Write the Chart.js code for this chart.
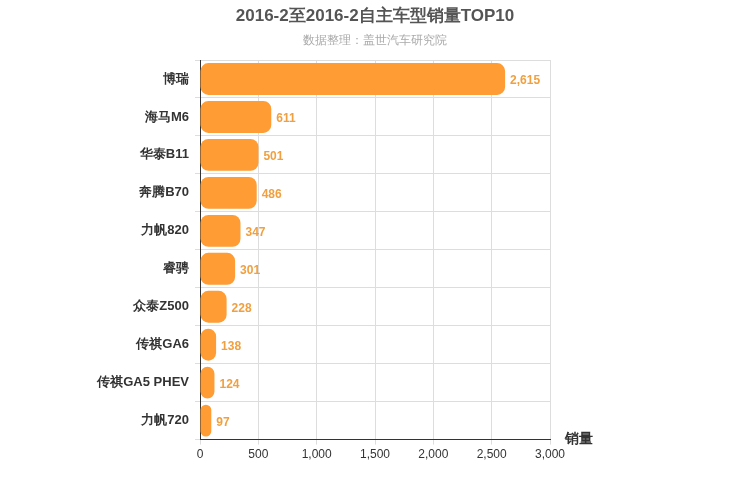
<!DOCTYPE html>
<html>
<head>
<meta charset="utf-8">
<script src="https://cdn.jsdelivr.net/npm/chart.js@4"></script>
<style>
body{margin:0;background:#fff;}
#wrap{width:750px;height:500px;position:relative;}
</style>
</head>
<body>
<div id="wrap"><canvas id="myChart" width="750" height="500"></canvas></div>
<script>
var categories = ['博瑞','海马M6','华泰B11','奔腾B70','力帆820','睿骋','众泰Z500','传祺GA6','传祺GA5 PHEV','力帆720'];
var sales = [2615, 611, 501, 486, 347, 301, 228, 138, 124, 97];
var xTicks = [0, 500, 1000, 1500, 2000, 2500, 3000];

var ctx = document.getElementById('myChart').getContext('2d');

// titles, value labels and axis name
var extras = {
    id: 'extras',
    afterDatasetsDraw: function(chart){
        var c = chart.ctx;
        var meta = chart.getDatasetMeta(0);
        c.save();
        c.textAlign = 'center';
        c.textBaseline = 'middle';
        c.font = 'bold 17px "Liberation Sans", Arial';
        c.fillStyle = '#555';
        c.fillText('2016-2至2016-2自主车型销量TOP10', 375, 16);
        c.font = '12px "Liberation Sans", Arial';
        c.fillStyle = '#aaa';
        c.fillText('数据整理：盖世汽车研究院', 375, 41);
        c.textAlign = 'left';
        c.font = 'bold 12px "Liberation Sans", Arial';
        c.fillStyle = '#F0A040';
        meta.data.forEach(function(bar, i){
            c.fillText(sales[i].toLocaleString('en-US'), bar.x + 5, bar.y + 2);
        });
        c.font = 'bold 14px "Liberation Sans", Arial';
        c.fillStyle = '#333';
        c.fillText('销量', 565, 439);
        c.restore();
    }
};

var chart = new Chart(ctx, {
    type: 'bar',
    data: {
        labels: categories,
        datasets: [{
            data: sales,
            backgroundColor: '#FF9C33',
            borderRadius: 8,
            borderSkipped: false,
            categoryPercentage: 0.84,
            barPercentage: 1
        }]
    },
    options: {
        indexAxis: 'y',
        responsive: false,
        animation: false,
        layout: {padding: {left: 0, right: 200, top: 60, bottom: 35}},
        plugins: {
            legend: {display: false},
            tooltip: {enabled: false}
        },
        scales: {
            x: {
                min: 0, max: 3000,
                afterBuildTicks: function(s){ s.ticks = xTicks.map(function(v){ return {value: v}; }); },
                ticks: {color: '#333', font: {size: 12}, callback: function(v){ return v.toLocaleString('en-US'); }},
                grid: {color: '#ddd', drawTicks: true, tickLength: 5},
                border: {color: '#333'}
            },
            y: {
                ticks: {color: '#333', font: {size: 13, weight: 'bold'}, padding: 6},
                grid: {color: '#ddd', offset: true, tickLength: 5},
                border: {color: '#333'},
                afterFit: function(s){ s.width = 200; }
            }
        }
    },
    plugins: [extras]
});
</script>
</body>
</html>
